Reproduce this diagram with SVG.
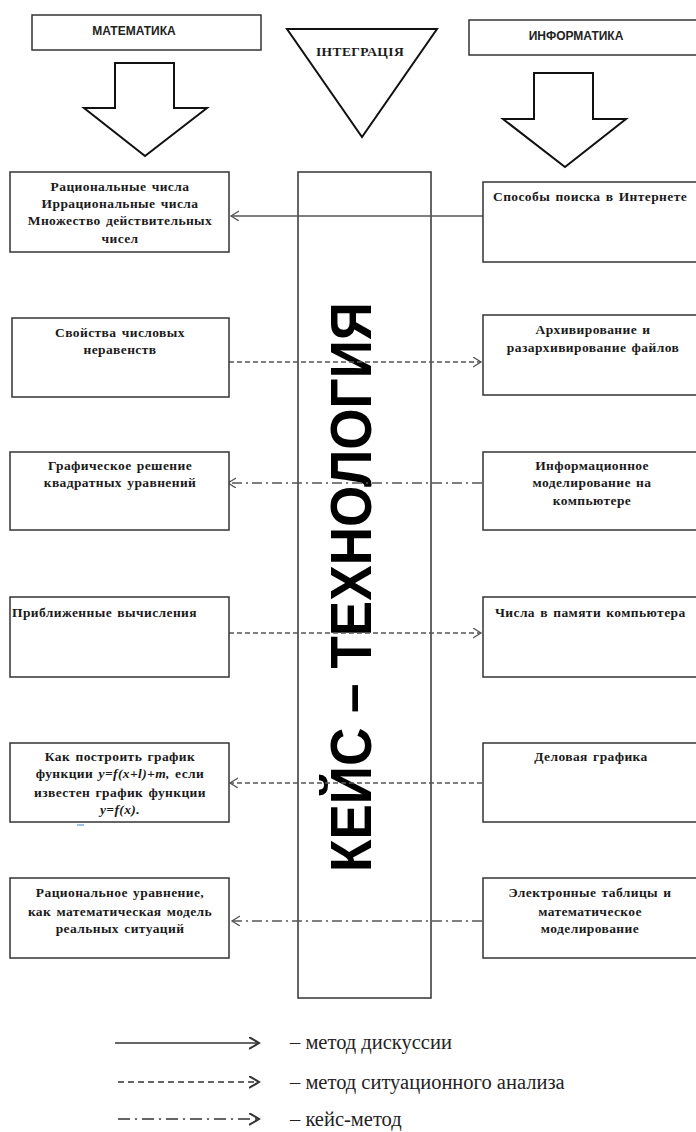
<svg xmlns="http://www.w3.org/2000/svg" width="696" height="1132" viewBox="0 0 696 1132">
<defs>
<style>
.box{fill:#fff;stroke:#333;stroke-width:1.5}
.blk{fill:#fff;stroke:#111;stroke-width:2;stroke-linejoin:miter}
.t{font-family:"Liberation Serif","Times New Roman",serif;font-weight:bold;font-size:13.5px;letter-spacing:0.4px;word-spacing:1.5px;fill:#1a1a1a}
.c{text-anchor:middle}
.h{font-family:"Liberation Sans",Arial,sans-serif;font-weight:bold;font-size:12px;fill:#222;text-anchor:middle}
.con{fill:none;stroke:#555;stroke-width:1.3}
.dash{stroke-dasharray:5,3}
.dd{stroke-dasharray:10,4,2,4}
.leg{fill:none;stroke:#333;stroke-width:1.6}
.lt{font-family:"Liberation Serif","Times New Roman",serif;font-size:20.5px;fill:#222}
</style>
<marker id="ah" markerUnits="userSpaceOnUse" markerWidth="10" markerHeight="12" refX="8" refY="5" orient="auto">
<path d="M0,0 L8,5 L0,10" fill="none" stroke="#555" stroke-width="1.3"/>
</marker>
<marker id="ahl" markerUnits="userSpaceOnUse" markerWidth="14" markerHeight="14" refX="10" refY="6" orient="auto">
<path d="M0,0 L10,6 L0,12" fill="none" stroke="#333" stroke-width="2"/>
</marker>
</defs>
<rect width="696" height="1132" fill="#fff"/>

<g id="header-math">
<rect class="box" x="32" y="15" width="229" height="35"/>
<text class="h" x="134" y="35">МАТЕМАТИКА</text>
</g>
<g id="header-integration">
<polygon class="blk" points="287,29 437,29 362,137"/>
<text class="t c" x="360" y="56" font-size="10.5" letter-spacing="0" fill="#3a2030">ІНТЕГРАЦІЯ</text>
</g>
<g id="header-info">
<rect class="box" x="469" y="20" width="229" height="35"/>
<text class="h" x="576" y="40">ИНФОРМАТИКА</text>
</g>
<g id="arrow-math">
<polygon class="blk" points="115,63 174,63 174,108 207,108 145,156 84,108 115,108"/>
</g>
<g id="arrow-info">
<polygon class="blk" points="534,73 593,73 593,119 626,119 565,167 503,119 534,119"/>
</g>

<g id="case-tech">
<rect class="box" x="298" y="172" width="133" height="826"/>
<text transform="translate(371,587) rotate(-90)" x="0" y="0" text-anchor="middle" font-family="Liberation Sans, Arial, sans-serif" font-weight="bold" font-size="57" fill="#000" textLength="570" lengthAdjust="spacingAndGlyphs">КЕЙС – ТЕХНОЛОГИЯ</text>
</g>

<g id="connectors">
<line class="con" x1="483" y1="216" x2="231" y2="216" marker-end="url(#ah)"/>
<line class="con dash" x1="229" y1="362" x2="481" y2="362" marker-end="url(#ah)"/>
<line class="con dd" x1="482" y1="483" x2="228" y2="483" marker-end="url(#ah)"/>
<line class="con dash" x1="229" y1="633" x2="481" y2="633" marker-end="url(#ah)"/>
<line class="con dash" x1="482" y1="783" x2="230" y2="783" marker-end="url(#ah)"/>
<line class="con dd" x1="482" y1="921" x2="232" y2="921" marker-end="url(#ah)"/>
</g>

<g id="m1">
<rect class="box" x="10" y="172" width="219" height="80"/>
<text class="t c" x="120" y="191">Рациональные числа</text>
<text class="t c" x="120" y="208">Иррациональные числа</text>
<text class="t c" x="120" y="225">Множество действительных</text>
<text class="t c" x="120" y="243">чисел</text>
</g>
<g id="m2">
<rect class="box" x="12" y="318" width="217" height="79"/>
<text class="t c" x="120" y="337">Свойства числовых</text>
<text class="t c" x="120" y="354">неравенств</text>
</g>
<g id="m3">
<rect class="box" x="10" y="452" width="219" height="78"/>
<text class="t c" x="120" y="470">Графическое решение</text>
<text class="t c" x="120" y="487">квадратных уравнений</text>
</g>
<g id="m4">
<rect class="box" x="10" y="597" width="219" height="80"/>
<text class="t" x="12" y="617">Приближенные вычисления</text>
</g>
<g id="m5">
<rect class="box" x="10" y="743" width="219" height="79"/>
<text class="t c" x="120" y="761">Как построить график</text>
<text class="t c" x="120" y="778">функции <tspan font-style="italic">y=f(x+l)+m,</tspan> если</text>
<text class="t c" x="120" y="797">известен график функции</text>
<text class="t c" x="120" y="814" font-style="italic">y=f(x).</text>
<rect x="77" y="824" width="7" height="2" fill="#9cc3e6"/>
</g>
<g id="m6">
<rect class="box" x="10" y="878" width="219" height="80"/>
<text class="t c" x="120" y="897">Рациональное уравнение,</text>
<text class="t c" x="120" y="916">как математическая модель</text>
<text class="t c" x="120" y="933">реальных ситуаций</text>
</g>

<g id="i1">
<rect class="box" x="483" y="182" width="215" height="80"/>
<text class="t" x="493" y="201">Способы поиска в Интернете</text>
</g>
<g id="i2">
<rect class="box" x="483" y="315" width="215" height="80"/>
<text class="t c" x="593" y="334">Архивирование и</text>
<text class="t c" x="593" y="352">разархивирование файлов</text>
</g>
<g id="i3">
<rect class="box" x="483" y="452" width="215" height="78"/>
<text class="t c" x="592" y="470">Информационное</text>
<text class="t c" x="592" y="487">моделирование на</text>
<text class="t c" x="592" y="505">компьютере</text>
</g>
<g id="i4">
<rect class="box" x="483" y="597" width="215" height="80"/>
<text class="t" x="495" y="617">Числа в памяти компьютера</text>
</g>
<g id="i5">
<rect class="box" x="483" y="743" width="215" height="79"/>
<text class="t c" x="591" y="761">Деловая графика</text>
</g>
<g id="i6">
<rect class="box" x="483" y="878" width="215" height="80"/>
<text class="t c" x="590" y="897">Электронные таблицы и</text>
<text class="t c" x="590" y="916">математическое</text>
<text class="t c" x="590" y="933">моделирование</text>
</g>

<g id="legend">
<line class="leg" x1="115" y1="1043" x2="259" y2="1043" marker-end="url(#ahl)"/>
<text class="lt" x="290" y="1049">– метод дискуссии</text>
<line class="leg" x1="118" y1="1082" x2="259" y2="1082" stroke-dasharray="6,4" marker-end="url(#ahl)"/>
<text class="lt" x="290" y="1089">– метод ситуационного анализа</text>
<line class="leg" x1="118" y1="1119" x2="259" y2="1119" stroke-dasharray="12,5,2,5" marker-end="url(#ahl)"/>
<text class="lt" x="290" y="1126">– кейс-метод</text>
</g>
</svg>
